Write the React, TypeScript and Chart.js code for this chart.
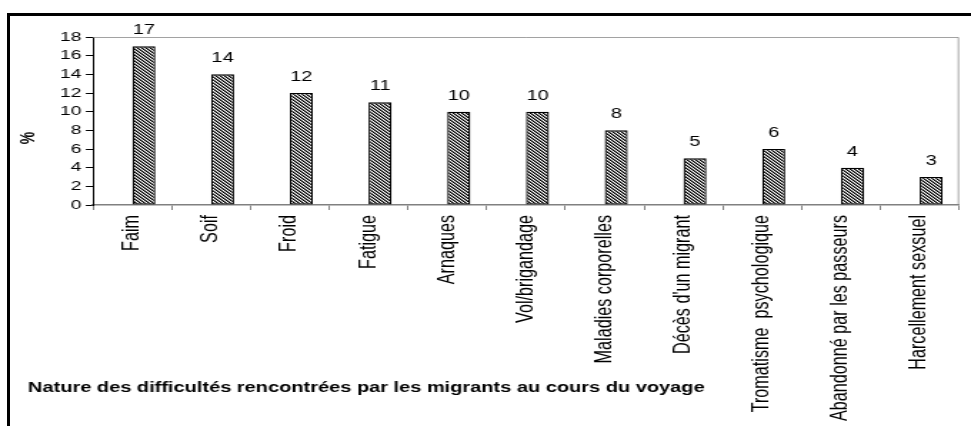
import { useEffect, useRef } from "react";
import { Chart, registerables } from "chart.js";
Chart.register(...registerables);

const categories = [
  "Faim",
  "Soif",
  "Froid",
  "Fatigue",
  "Arnaques",
  "Vol/brigandage",
  "Maladies corporelles",
  "Décès d'un migrant",
  "Tromatisme  psychologique",
  "Abandonné par les passeurs",
  "Harcellement sexsuel",
];
const values = [17, 14, 12, 11, 10, 10, 8, 5, 6, 4, 3];
const yMin = 0;
const yMax = 18;
const yStep = 2;
const yAxisTitle = "%";
const chartTitle = "Nature des difficultés rencontrées par les migrants au cours du voyage";

const FONT = "'Liberation Sans', Arial, sans-serif";
const W_SCREEN = 971;
const W = 680; // internal canvas width, stretched horizontally to screen width
const H = 426;
const SX = W_SCREEN / W;

export default function App() {
  const ref = useRef<HTMLCanvasElement>(null);

  useEffect(() => {
    const canvas = ref.current!;
    const ctx = canvas.getContext("2d")!;

    const tile = document.createElement("canvas");
    tile.width = 3;
    tile.height = 3;
    const t = tile.getContext("2d")!;
    t.fillStyle = "#ffffff";
    t.fillRect(0, 0, 3, 3);
    for (let r = 0; r < 3; r++) {
      t.fillStyle = "#000000";
      t.fillRect(r, r, 1, 1);
      t.fillStyle = "#707070";
      t.fillRect((r + 1) % 3, r, 1, 1);
    }
    const pattern = ctx.createPattern(tile, "repeat")!;

    const plotFrame = {
      id: "plotFrame",
      beforeDatasetsDraw(chart: any) {
        const { left, right, top, bottom } = chart.chartArea;
        const c = chart.ctx;
        c.save();
        c.strokeStyle = "#8a8a8a";
        c.lineWidth = 0.8;
        c.beginPath();
        c.moveTo(left, top + 0.5);
        c.lineTo(right - 0.4, top + 0.5);
        c.lineTo(right - 0.4, bottom);
        c.stroke();
        c.restore();
      },
    };

    const valueLabels = {
      id: "valueLabels",
      afterDatasetsDraw(chart: any) {
        const meta = chart.getDatasetMeta(1);
        const c = chart.ctx;
        c.save();
        c.fillStyle = "#000";
        c.font = `14px ${FONT}`;
        c.textAlign = "center";
        c.textBaseline = "middle";
        meta.data.forEach((el: any, i: number) => {
          c.fillText(String(values[i]), el.x, el.y - 16);
        });
        c.restore();
      },
    };

    const texts = {
      id: "texts",
      afterDraw(chart: any) {
        const c = chart.ctx;
        c.save();
        c.fillStyle = "#000";
        c.font = `bold 14px ${FONT}`;
        c.translate(28.5 / SX, 138);
        c.rotate(-Math.PI / 2);
        c.textAlign = "center";
        c.textBaseline = "middle";
        c.fillText(yAxisTitle, 0, 0);
        c.restore();

        c.save();
        c.fillStyle = "#000";
        c.font = `bold 14px ${FONT}`;
        c.textAlign = "left";
        c.textBaseline = "middle";
        c.fillText(chartTitle, 28 / SX, 388);
        c.restore();
      },
    };

    const chart = new Chart(canvas, {
      type: "bar",
      data: {
        labels: categories,
        datasets: [
          {
            label: "",
            data: new Array(categories.length).fill(null),
            backgroundColor: pattern,
            categoryPercentage: 0.584,
            barPercentage: 1,
          },
          {
            label: "%",
            data: values,
            backgroundColor: pattern,
            borderColor: "#000000",
            borderWidth: 1.3,
            borderSkipped: false,
            categoryPercentage: 0.584,
            barPercentage: 1,
          },
        ],
      },
      options: {
        animation: false,
        responsive: false,
        devicePixelRatio: 1,
        layout: { padding: { left: 0, right: 8.4, top: 37, bottom: 0 } },
        plugins: {
          legend: { display: false },
          title: { display: false },
          tooltip: { enabled: false },
        },
        scales: {
          x: {
            afterFit(scale: any) {
              scale.height = H - 205;
            },
            grid: {
              display: true,
              offset: true,
              drawOnChartArea: false,
              tickLength: 5,
              color: "#808080",
              lineWidth: 1,
            },
            border: { display: true, color: "#808080", width: 1.5 },
            ticks: {
              autoSkip: false,
              maxRotation: 90,
              minRotation: 90,
              padding: 5,
              color: "#000",
              font: { family: FONT, size: 16.2 },
            },
          },
          y: {
            min: yMin,
            max: yMax,
            afterFit(scale: any) {
              scale.width = 93 / SX;
            },
            grid: {
              display: true,
              drawOnChartArea: false,
              tickLength: 5,
              color: "#000",
              lineWidth: 1,
            },
            border: { display: true, color: "#000", width: 1 },
            ticks: {
              stepSize: yStep,
              autoSkip: false,
              padding: 3,
              color: "#000",
              font: { family: FONT, size: 13.5 },
            },
          },
        },
      },
      plugins: [plotFrame, valueLabels, texts],
    });

    return () => chart.destroy();
  }, []);

  return (
    <div
      style={{
        position: "fixed",
        left: 0,
        top: 0,
        width: W_SCREEN,
        height: H,
        overflow: "hidden",
        background: "#fff",
      }}
    >
      <div
        style={{
          position: "absolute",
          left: 7,
          top: 13,
          width: 2000,
          height: 2000,
          border: "3px solid #000",
        }}
      />
      <div
        style={{
          position: "absolute",
          left: 0,
          top: 0,
          width: W,
          height: H,
          transform: `scaleX(${SX})`,
          transformOrigin: "0 0",
        }}
      >
        <canvas ref={ref} width={W} height={H} style={{ width: W, height: H, display: "block" }} />
      </div>
    </div>
  );
}
